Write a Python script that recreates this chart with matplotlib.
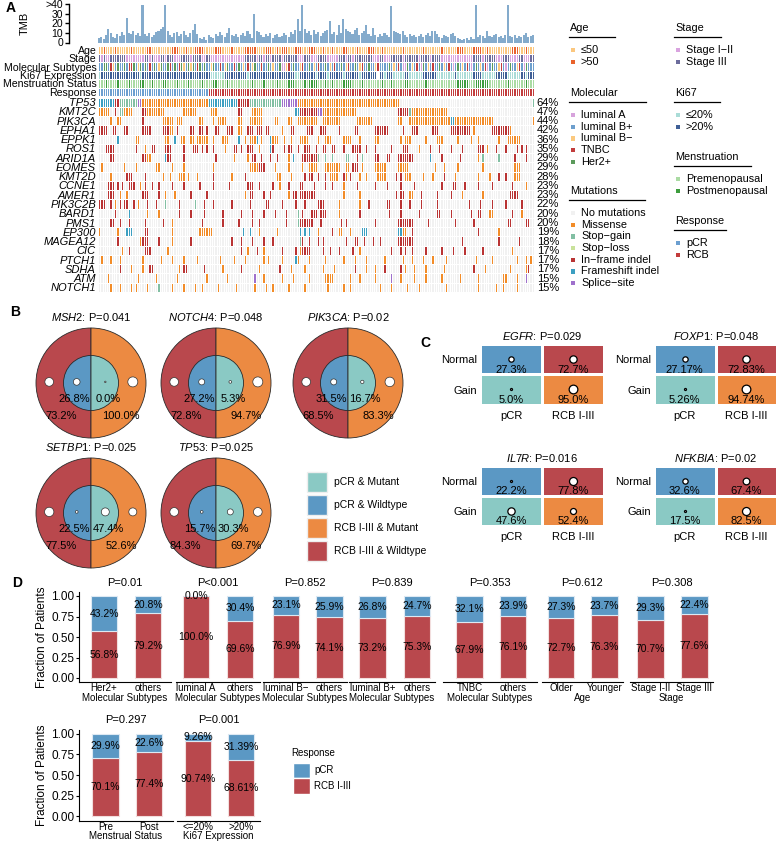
import matplotlib

matplotlib.use("Agg")
import matplotlib.pyplot as plt
import numpy as np
from matplotlib.colors import ListedColormap
from matplotlib.patches import Rectangle, Wedge

W, H = 778, 842
N_PAT = 191

plt.rcParams.update(
    {
        "font.family": ["Liberation Sans", "DejaVu Sans"],
        "mathtext.fontset": "custom",
        "mathtext.rm": "Liberation Sans",
        "mathtext.it": "Liberation Sans:italic",
    }
)

# ---------------- panel A: oncoprint ----------------
tmb = [
    5, 6, 4, 8, 14, 10, 6, 5, 9, 7,
    11, 8, 25, 10, 9, 12, 8, 10, 7, 39,
    9, 7, 10, 6, 8, 11, 12, 14, 16, 39,
    12, 8, 6, 10, 11, 7, 9, 12, 8, 6,
    10, 13, 19, 9, 5, 4, 6, 3, 8, 6,
    5, 9, 7, 11, 8, 6, 10, 15, 8, 7,
    9, 6, 8, 10, 7, 12, 9, 5, 30, 12,
    11, 8, 6, 9, 7, 10, 5, 8, 9, 6,
    7, 10, 8, 6, 11, 9, 13, 24, 12, 39,
    14, 10, 12, 8, 13, 9, 11, 7, 10, 12,
    13, 22, 9, 11, 8, 18, 10, 24, 14, 12,
    11, 9, 13, 15, 8, 10, 12, 18, 9, 7,
    15, 8, 6, 9, 7, 10, 8, 6, 38, 12,
    11, 10, 9, 12, 8, 6, 9, 7, 8, 6,
    7, 9, 6, 8, 10, 7, 12, 12, 9, 6,
    5, 8, 7, 6, 9, 10, 7, 5, 4, 3,
    4, 5, 3, 6, 4, 39, 6, 8, 7, 5,
    12, 7, 6, 8, 9, 6, 7, 5, 8, 39,
    7, 6, 8, 5, 7, 6, 8, 10, 6, 7, 8,
]

# annotation tracks: patient ranges with a category code, rest = default code
age_spec = ("2o 7o 14o 21-22o 32-34o 38o 42-45o 51-53o 58o 64-68o 73-75o 78o 80-82o 86-88o "
            "92-94o 98o 102o 107-108o 113o 118-120o 124o 133o 142o 150o 157-159o 164-167o "
            "170o 181-183o 187o")
stage_spec = ("1e 3-4e 12-19e 22e 24-26e 29e 33-35e 40e 45-46e 49-63e 69e 72e 75e 80e 87-89e "
              "93-95e 100-104e 108e 111e 120-122e 125-127e 133e 140e 145e 150-163e 168e "
              "174-176e 180-183e 186-188e")
mol_spec = ("2-3H 5T 6N 8H 11H 13-14T 15H 17N 18H 20H 22T 24H 26N 27H 30H 31T 33H 35T 36H 37N "
            "39H 40N 41H 43T 44H 46H 49N 50H 53T 55N 56H 59T 61H 63N 65T 67N 68H 71T 74H 76N "
            "79H 80-81A 82N 83T 85H 88N 89T 92H 94N 96T 99H 101N 103T 106H 108N 109T 112H "
            "114N 115T 118H 121N 122T 127H 129N 131T 133-134A 135H 137N 139T 141A 142H 144N "
            "146T 149H 151N 153T 155A 157H 159N 161T 163A 165H 167N 169T 170A 172H 175N 176T "
            "178A 180H 183N 184T 186A 187H")
ki67_spec = ("0l 18l 49-54l 65l 86-87l 95l 100l 107l 114l 122x 125l 129-133l 136-141l 148-155l "
             "157-163l 168-173l 179-184l 187l")
mens_spec = ("3q 8q 13q 18-19q 23q 28-29q 34q 39q 45q 50-51q 56q 67q 72q 78q 83-85q 90q 92-95q "
             "99q 102q 107-110q 115q 124q 128q 134-135q 143q 157-161q 165-170q 179q 187q")
resp_spec = "0-47c"

ann_labels = ["Age", "Stage", "Molecular Subtypes", "Ki67 Expression",
              "Menstruation Status", "Response"]
ann_specs = [(age_spec, "y"), (stage_spec, "l"), (mol_spec, "P"),
             (ki67_spec, "h"), (mens_spec, "p"), (resp_spec, "r")]
ann_cols = [
    {"y": "#fbc77f", "o": "#e9622b"},
    {"e": "#d9a3df", "l": "#6c6c9c"},
    {"A": "#d7a3dc", "P": "#6d9fcd", "N": "#fbc97f", "T": "#c23c3c", "H": "#5b9a5b"},
    {"l": "#aadcd7", "h": "#3f5f96", "x": "#ffffff"},
    {"p": "#aadba3", "q": "#3d9c3d"},
    {"c": "#6c9fd0", "r": "#c33c3c"},
]

genes = ["TP53", "KMT2C", "PIK3CA", "EPHA1", "EPPK1", "ROS1", "ARID1A", "EOMES", "KMT2D",
         "CCNE1", "AMER1", "PIK3C2B", "BARD1", "PMS1", "EP300", "MAGEA12", "CIC", "PTCH1",
         "SDHA", "ATM", "NOTCH1"]
gene_pct = ["64%", "47%", "44%", "42%", "36%", "35%", "29%", "29%", "28%", "23%", "23%",
            "22%", "20%", "20%", "19%", "18%", "17%", "17%", "17%", "15%", "15%"]
# M missense, G stop-gain, L stop-loss, I in-frame indel, F frameshift, S splice-site
mut_specs = [
    "0-6F 7-8I 9-16G 17-18S 19-47M 48-60F 61-65I 66-79G 80-86S 87-131M 190G",
    "0-4M 7I 9-10G 11-14M 19-20I 21-28M 37-42M 49-51M 61-62I 67-71M 86-87F 88-95I 96-97S "
    "98-112M 131-135I 136G 137-152M",
    "5M 8-9M 19I 28-32M 34-36M 44-45M 50M 52-55M 61-62M 66-71M 77-78M 83-84M 87-95M 98-105M "
    "113-119M 131-132M 136-153M 154-155F 156-172M 190M",
    "0-3I 6-7I 11-12I 19-22I 28-30I 31-32M 34I 40-41I 44-45I 47I 51-52I 56-58I 61-62M 65-67I "
    "69-71I 73-74I 80M 84-85I 91-93I 97-99I 105I 112-113I 121-126I 133I 137-139I 146-148I "
    "154-162I 164M 172-179I 180M",
    "8F 16-17M 29-30M 33F 36-37M 40-41M 43-44M 45-47M 50M 54-56M 61F 64M 66-68M 69F 71M 75F "
    "76-78M 81M 84M 88-90M 91M 96M 99-101M 107-110M 114M 121-122M 132M 134-136M 143M "
    "148-150M 157M 163M 166M 175M 179-184M",
    "3-6I 16I 20M 23-24I 29-31I 37I 41-43I 45I 47I 50I 55M 59-60I 62I 65-67I 70M 75F 76I 81I "
    "83-84I 87I 90-92I 95I 98-99I 102-103I 107I 111-114I 117I 121I 128I 133-135I 140M 145I "
    "149I 154I 159I 166-168I 170M 174I 178I 183I 185I 187I",
    "5-6I 19-20I 21-22M 29F 30-31I 37I 51I 59M 65M 67-68I 71I 75I 78I 83M 85F 89-95I 96G 99G "
    "102G 108-109G 113I 115G 121-122I 126-127I 131-137I 145F 150I 158I 166M 168G 175G 182I 187I",
    "1M 11M 16M 25-26M 32M 37M 50M 66-69M 70-72I 77M 83M 89M 92-95M 99-105M 108-109M "
    "111-113I 115M 121-125M 131-135M 147M 151M 157M 168M 182-184M",
    "5M 12-14I 20I 28M 31M 35-37M 39M 43M 50I 58M 64I 78-79M 84M 90I 92-93I 96I 99I 101-104M "
    "107I 108M 110I 114M 117M 122-125M 130I 132I 134-136M 142M 146M 151I 156M 166M 171M 175I "
    "178I 182-184M",
    "4-6I 8I 10I 13-15I 18M 20I 23I 26I 32I 37I 44I 50I 57I 65-67I 70I 76I 79M 83I 88-89I 94I "
    "99I 102I 107M 113I 121I 126I 132I 138I 150I 155-156I 160I 166I 172I 181I 187M",
    "4-6I 9M 12M 19-21I 26I 29M 33M 40I 47I 64M 66-67I 72I 75I 83M 85-86I 88-94I 107M 114M "
    "130I 132-133I 136-137M 141I 148I 154I 159M 168M 180-183I",
    "0-2I 5I 7M 9I 11-12I 15I 17M 21I 25I 29G 35I 42G 46I 50I 58I 66I 73-74I 80I 86I 90I "
    "96-98I 105M 114M 118I 126-127I 132I 136I 141I 148I 162I 167I 172I 178I 185I",
    "7I 13F 21M 26M 35I 40I 46I 54I 62I 67I 72I 77I 82I 87G 89I 93-95I 97-99I 105M 114I 127I "
    "132I 140I 148-149I 154I 163I 166-167I 171-172M 181I 185M",
    "5-6I 9I 13I 20I 28I 32M 45I 54I 61I 67I 70I 82I 87G 88-93I 97I 106I 108I 121I 131-137I "
    "144I 156I 164I 179-180I 187-188I",
    "0M 8M 12-14F 20-21I 32M 44-49M 63F 66F 70M 78M 88F 90F 92F 96M 102I 105-106M 110M "
    "115-117F 131-132F 133-134M 137I 166I 175M",
    "8I 18M 19-21I 26I 32M 40I 58I 62I 67I 72I 76I 88G 89I 92I 96I 98I 108I 112-113I 116I "
    "120I 123I 131-137I 159I 175I 184I",
    "10M 13I 20-22I 30M 62I 65M 69I 72M 80I 86I 88M 89-92I 98I 101I 105I 111I 114M 128I 132I "
    "134I 137I 143I 150I 155I 160I 168I 181M",
    "1M 5M 9M 19M 27M 32M 37M 43M 53M 59M 64M 72M 74M 80M 86F 87M 92M 99M 107M 112M 117M "
    "125M 133M 137M 142M 146M 152M 165M 172M 183M 187M 189M",
    "9I 14M 19M 22-23I 35M 37-38I 46I 54M 62I 70M 79I 84M 90M 98M 103M 112I 117M 121M 125I "
    "132I 134M 138M 143M 151M 164I 169M 180M 187M 188I",
    "4M 17M 25M 34M 47M 56M 68S 72M 80M 85M 92M 99-102M 110M 114M 121M 128S 132M 138M 143M "
    "150M 158M 166M 177-178M 183M 187S",
    "5M 9M 14M 16M 21M 26G 32M 37M 42M 45M 52M 60M 68M 73M 76M 83M 90M 100M 107M 110M 123M "
    "128M 135M 140M 152M 166M 174M 177M 183M",
]
mut_cols = {".": "#f1f1f1", "M": "#f28c28", "G": "#82bfa3", "L": "#c9e29b",
            "I": "#b93333", "F": "#3c9fc1", "S": "#9f70cc"}

# ---------------- panel B: donut plots ----------------
pie_genes = ["MSH2", "NOTCH4", "PIK3CA", "SETBP1", "TP53"]
pie_p = ["P=0.041", "P=0.048", "P=0.02", "P=0.025", "P=0.025"]
pie_pcr_wt = ["26.8%", "27.2%", "31.5%", "22.5%", "15.7%"]
pie_pcr_mut = ["0.0%", "5.3%", "16.7%", "47.4%", "30.3%"]
pie_rcb_wt = ["73.2%", "72.8%", "68.5%", "77.5%", "84.3%"]
pie_rcb_mut = ["100.0%", "94.7%", "83.3%", "52.6%", "69.7%"]
# dot diameters (px): RCB&WT, pCR&WT, pCR&Mut, RCB&Mut
pie_dots = [[8.7, 6.7, 1.5, 10], [8.7, 6, 2.7, 10], [8.7, 6, 3.3, 9.5],
            [9.3, 2.7, 8, 8], [8.7, 2.7, 6, 8.7]]

# ---------------- panel C: CNV 2x2 tables ----------------
c_genes = ["EGFR", "FOXP1", "IL7R", "NFKBIA"]
c_p = ["P=0.029", "P=0.048", "P=0.016", "P=0.02"]
c_pct = [[["27.3%", "72.7%"], ["5.0%", "95.0%"]],
         [["27.17%", "72.83%"], ["5.26%", "94.74%"]],
         [["22.2%", "77.8%"], ["47.6%", "52.4%"]],
         [["32.6%", "67.4%"], ["17.5%", "82.5%"]]]
c_dots = [[[5.3, 7.3], [2, 8.7]], [[5.3, 7.3], [2, 8.7]],
          [[2, 8], [7.3, 6]], [[5.3, 6.7], [2, 8]]]
c_rows = ["Normal", "Gain"]
c_cols = ["pCR", "RCB I-III"]

# ---------------- panel D: stacked bars ----------------
d_lab1 = ["Her2+", "luminal A", "luminal B\u2212", "luminal B+", "TNBC", "Older",
          "Stage I-II", "Pre", "<=20%"]
d_lab2 = ["others", "others", "others", "others", "others", "Younger", "Stage III",
          "Post", ">20%"]
d_title = ["Molecular Subtypes"] * 5 + ["Age", "Stage", "Menstrual Status", "Ki67 Expression"]
d_p = ["P=0.01", "P<0.001", "P=0.852", "P=0.839", "P=0.353", "P=0.612", "P=0.308",
       "P=0.297", "P=0.001"]
d_pcr = [[43.2, 20.8], [0.0, 30.4], [23.1, 25.9], [26.8, 24.7], [32.1, 23.9],
         [27.3, 23.7], [29.3, 22.4], [29.9, 22.6], [9.26, 31.39]]
d_rcb = [[56.8, 79.2], [100.0, 69.6], [76.9, 74.1], [73.2, 75.3], [67.9, 76.1],
         [72.7, 76.3], [70.7, 77.6], [70.1, 77.4], [90.74, 68.61]]
d_pcr_txt = [["43.2%", "20.8%"], ["0.0%", "30.4%"], ["23.1%", "25.9%"], ["26.8%", "24.7%"],
             ["32.1%", "23.9%"], ["27.3%", "23.7%"], ["29.3%", "22.4%"], ["29.9%", "22.6%"],
             ["9.26%", "31.39%"]]
d_rcb_txt = [["56.8%", "79.2%"], ["100.0%", "69.6%"], ["76.9%", "74.1%"], ["73.2%", "75.3%"],
             ["67.9%", "76.1%"], ["72.7%", "76.3%"], ["70.7%", "77.6%"], ["70.1%", "77.4%"],
             ["90.74%", "68.61%"]]

C_TEAL, C_BLUE, C_ORANGE, C_RED = "#8ac9c4", "#5b98c4", "#ec8a42", "#b9484d"


def expand(spec, default):
    row = [default] * N_PAT
    for tok in spec.split():
        rng, code = tok[:-1], tok[-1]
        a, _, b = rng.partition("-")
        for c in range(int(a), int(b or a) + 1):
            row[c] = code
    return row


fig = plt.figure(figsize=(W / 100, H / 100), dpi=100)


def px_axes(x0, y0, x1, y1):
    return fig.add_axes([x0 / W, 1 - y1 / H, (x1 - x0) / W, (y1 - y0) / H])


def clean(ax):
    for s in ax.spines.values():
        s.set_visible(False)


# ---- A: TMB bars
ax = px_axes(98, 4, 534, 42.5)
ax.bar(np.arange(N_PAT), np.minimum(tmb, 40), width=0.9, color="#84abcc")
ax.set_xlim(-0.5, N_PAT - 0.5)
ax.set_ylim(0, 40)
for s in ("top", "right", "bottom"):
    ax.spines[s].set_visible(False)
ax.spines["left"].set_position(("outward", 21))
ax.spines["left"].set_linewidth(1.0)
ax.set_xticks([])
ax.set_yticks([0, 10, 20, 30, 40], ["0", "10", "20", "30", ">40"], fontsize=7.5)
ax.tick_params(axis="y", length=3, pad=1, width=1.0)
ax.patch.set_visible(False)

# ---- A: annotation + mutation matrix
palette = []


def pal(color):
    if color not in palette:
        palette.append(color)
    return palette.index(color)


ann_mat = np.array([[pal(cols[c]) for c in expand(s, d)]
                    for (s, d), cols in zip(ann_specs, ann_cols)])
mut_mat = np.array([[pal(mut_cols[c]) for c in expand(s, ".")] for s in mut_specs])
cmap = ListedColormap(palette)

ax = px_axes(98, 45.5, 534, 96)
ax.pcolormesh(np.arange(N_PAT + 1), np.arange(len(ann_labels) + 1), ann_mat, cmap=cmap,
              vmin=-0.5, vmax=len(palette) - 0.5, edgecolors="white", linewidth=0.45)
ax.set_ylim(len(ann_labels), 0)
ax.set_xlim(0, N_PAT)
ax.set_xticks([])
ax.set_yticks(np.arange(len(ann_labels)) + 0.5, ann_labels, fontsize=7.6)
ax.tick_params(length=0, pad=1.2)
clean(ax)

ax = px_axes(98, 97.5, 534, 292)
ax.pcolormesh(np.arange(N_PAT + 1), np.arange(len(genes) + 1), mut_mat, cmap=cmap,
              vmin=-0.5, vmax=len(palette) - 0.5, edgecolors="white", linewidth=0.45)
ax.set_ylim(len(genes), 0)
ax.set_xlim(0, N_PAT)
ax.set_xticks([])
ax.set_yticks(np.arange(len(genes)) + 0.5, genes, fontsize=8, fontstyle="italic")
ax.tick_params(length=0, pad=1.5)
for i, pct in enumerate(gene_pct):
    ax.text(N_PAT + 1.2, i + 0.55, pct, va="center", ha="left", fontsize=8)
clean(ax)

# ---- B: donuts
pie_cx = [91, 216, 348, 91, 216]
pie_cy = [383, 383, 383, 513, 513]
R = 55
edge = "#2a2a2a"
for i, g in enumerate(pie_genes):
    cx, cy = pie_cx[i], pie_cy[i]
    ax = px_axes(cx - R - 2, cy - R - 2, cx + R + 2, cy + R + 2)
    lim = (R + 2) / R
    ax.set_xlim(-lim, lim)
    ax.set_ylim(-lim, lim)
    ax.axis("off")
    ax.add_patch(Wedge((0, 0), 1, 90, 270, facecolor=C_RED, edgecolor=edge, lw=0.6))
    ax.add_patch(Wedge((0, 0), 1, -90, 90, facecolor=C_ORANGE, edgecolor=edge, lw=0.6))
    ax.add_patch(Wedge((0, 0), 0.5, 90, 270, facecolor=C_BLUE, edgecolor=edge, lw=0.6))
    ax.add_patch(Wedge((0, 0), 0.5, -90, 90, facecolor=C_TEAL, edgecolor=edge, lw=0.6))
    ax.scatter([-0.76, -0.26, 0.26, 0.76], [0.02] * 4,
               s=[(d * 0.72) ** 2 for d in pie_dots[i]], c="white",
               edgecolors="#333333", linewidths=0.5, zorder=3)
    ax.text(-0.30, -0.29, pie_pcr_wt[i], ha="center", va="center", fontsize=8, zorder=4)
    ax.text(0.31, -0.29, pie_pcr_mut[i], ha="center", va="center", fontsize=8, zorder=4)
    ax.text(-0.55, -0.60, pie_rcb_wt[i], ha="center", va="center", fontsize=8, zorder=4)
    ax.text(0.55, -0.60, pie_rcb_mut[i], ha="center", va="center", fontsize=8, zorder=4)
    ax.annotate(rf"$\it{{{g}}}$: {pie_p[i]}", (0.5, 1), xycoords="axes fraction",
                xytext=(0, 6.5), textcoords="offset points", ha="center", va="center",
                fontsize=8)

# ---- C: 2x2 tiles
c_box = [(480, 344, 604, 405), (654, 344, 777, 405), (480, 466, 604, 526),
         (654, 466, 777, 526)]
c_code = np.array([[1, 3], [0, 2]])
c_cmap = ListedColormap([C_TEAL, C_BLUE, C_ORANGE, C_RED])
for k, g in enumerate(c_genes):
    ax = px_axes(*c_box[k])
    ax.pcolormesh(c_code, cmap=c_cmap, vmin=-0.5, vmax=3.5, edgecolors="white",
                  linewidth=0.8)
    ax.set_xlim(0, 2)
    ax.set_ylim(2, 0)
    for r in range(2):
        for c in range(2):
            ax.scatter(c + 0.5, r + 0.49, s=(c_dots[k][r][c] * 0.72) ** 2, c="white",
                       edgecolors="black", linewidths=0.9, zorder=3)
            ax.text(c + 0.5, r + 0.85, c_pct[k][r][c], ha="center", va="center",
                    fontsize=8, zorder=4)
    ax.set_xticks([0.5, 1.5], c_cols, fontsize=8)
    ax.set_yticks([0.5, 1.5], c_rows, fontsize=8)
    ax.tick_params(length=0, pad=2)
    ax.tick_params(axis="x", pad=4)
    clean(ax)
    ax.annotate(rf"$\it{{{g}}}$: {c_p[k]}", (0.5, 1), xycoords="axes fraction",
                xytext=(0, 6), textcoords="offset points", ha="center", va="center",
                fontsize=8)

# ---- D: stacked bars
d_line = [(79, 171), (176, 260), (263, 347), (349, 435), (443, 537), (542, 623),
          (630, 713), (79, 173), (177, 260)]
d_ctr = [(104, 148), (196, 240), (286, 329.5), (372.5, 417), (469.5, 513), (561, 604.5),
         (650.5, 694.5), (105.5, 149), (198, 241)]
d_row = [0, 0, 0, 0, 0, 0, 0, 1, 1]
d_rowy = [(591.9, 682.1), (729.5, 820.5)]
for k in range(len(d_lab1)):
    x0, x1 = d_line[k]
    c1, c2 = d_ctr[k]
    y0, y1 = d_rowy[d_row[k]]
    ax = px_axes(x0, y0, x1, y1)
    kpx = c2 - c1
    ax.set_xlim(1 - (c1 - x0) / kpx, 2 + (x1 - c2) / kpx)
    ax.set_ylim(-0.05, 1.05)
    rcb = np.array(d_rcb[k]) / 100
    pcr = np.array(d_pcr[k]) / 100
    bw = 26.5 / kpx
    ax.bar([1, 2], rcb, width=bw, color=C_RED, edgecolor="#f2dede", linewidth=0.8)
    ax.bar([1, 2], pcr, bottom=rcb, width=bw, color=C_BLUE, edgecolor="#dde9f3",
           linewidth=0.8)
    for j in range(2):
        ax.text(j + 1, rcb[j] + pcr[j] / 2, d_pcr_txt[k][j], ha="center", va="center",
                fontsize=7.5)
        ax.text(j + 1, rcb[j] / 2, d_rcb_txt[k][j], ha="center", va="center", fontsize=7.5)
    ax.spines["top"].set_visible(False)
    ax.spines["right"].set_visible(False)
    ax.set_xticks([1, 2], [d_lab1[k], d_lab2[k]], fontsize=7)
    ax.tick_params(axis="x", length=0, pad=0.8)
    ax.set_xlabel(d_title[k], fontsize=7, labelpad=-0.5)
    if k in (0, 7):
        ax.set_yticks([0, 0.25, 0.5, 0.75, 1.0], ["0.00", "0.25", "0.50", "0.75", "1.00"],
                      fontsize=8.5)
        ax.tick_params(axis="y", length=2.5, pad=1)
        ax.set_ylabel("Fraction of Patients", fontsize=8.5, labelpad=2)
    else:
        ax.spines["left"].set_visible(False)
        ax.set_yticks([])
    ax.annotate(d_p[k], (0.5, 1), xycoords="axes fraction", xytext=(0, 6.5),
                textcoords="offset points", ha="center", va="center", fontsize=8)

# ---- overlay: panel letters, legends
ov = fig.add_axes([0, 0, 1, 1])
ov.set_xlim(0, W)
ov.set_ylim(H, 0)
ov.axis("off")
ov.patch.set_visible(False)

for lab, (lx, ly) in zip("ABCD", [(6, 8), (10, 312), (420, 343), (12, 583)]):
    ov.text(lx, ly, lab, fontsize=10, fontweight="bold", ha="left", va="center")
ov.text(25, 23, "TMB", rotation=90, fontsize=8, ha="center", va="center")

leg_a = [
    ("Age", 570, 28, 615, [("\u226450", ann_cols[0]["y"]), (">50", ann_cols[0]["o"])]),
    ("Stage", 675, 28, 721, [("Stage I\u2212II", ann_cols[1]["e"]),
                             ("Stage III", ann_cols[1]["l"])]),
    ("Molecular", 570, 93, 646, [("luminal A", ann_cols[2]["A"]),
                                 ("luminal B+", ann_cols[2]["P"]),
                                 ("luminal B\u2212", ann_cols[2]["N"]),
                                 ("TNBC", ann_cols[2]["T"]), ("Her2+", ann_cols[2]["H"])]),
    ("Ki67", 675, 93, 720, [("\u226420%", ann_cols[3]["l"]), (">20%", ann_cols[3]["h"])]),
    ("Mutations", 570, 191, 645, [("No mutations", mut_cols["."]),
                                  ("Missense", mut_cols["M"]), ("Stop\u2212gain", mut_cols["G"]),
                                  ("Stop\u2212loss", mut_cols["L"]),
                                  ("In\u2212frame indel", mut_cols["I"]),
                                  ("Frameshift indel", mut_cols["F"]),
                                  ("Splice\u2212site", mut_cols["S"])]),
    ("Menstruation", 675, 157, 751, [("Premenopausal", ann_cols[4]["p"]),
                                     ("Postmenopausal", ann_cols[4]["q"])]),
    ("Response", 675, 221, 726, [("pCR", ann_cols[5]["c"]), ("RCB", ann_cols[5]["r"])]),
]
for title, tx, ty, ux, items in leg_a:
    ov.text(tx, ty, title, fontsize=7.8, ha="left", va="center")
    ov.plot([tx - 1, ux], [ty + 9, ty + 9], color="black", lw=0.9)
    for j, (lab, col) in enumerate(items):
        iy = ty + 22 + 11.7 * j
        ov.add_patch(Rectangle((tx + 1, iy - 2.2), 4.4, 4.4, facecolor=col, edgecolor="none"))
        ov.text(tx + 11, iy, lab, fontsize=7.8, ha="left", va="center")

leg_b = [("pCR & Mutant", C_TEAL), ("pCR & Wildtype", C_BLUE),
         ("RCB I-III & Mutant", C_ORANGE), ("RCB I-III & Wildtype", C_RED)]
for j, (lab, col) in enumerate(leg_b):
    yc = 482 + 23 * j
    ov.add_patch(Rectangle((307, yc - 10), 20, 20, facecolor=col, edgecolor="#eeeeee", lw=1))
    ov.text(334, yc, lab, fontsize=7.5, ha="left", va="center")

ov.text(291, 753, "Response", fontsize=7, ha="left", va="center")
ov.add_patch(Rectangle((293, 762.5), 17, 15, facecolor=C_BLUE, edgecolor="white", lw=1))
ov.add_patch(Rectangle((293, 778), 17, 16, facecolor=C_RED, edgecolor="white", lw=1))
ov.text(314, 770, "pCR", fontsize=7, ha="left", va="center")
ov.text(314, 786, "RCB I-III", fontsize=7, ha="left", va="center")

fig.savefig("out.png", dpi=100)
